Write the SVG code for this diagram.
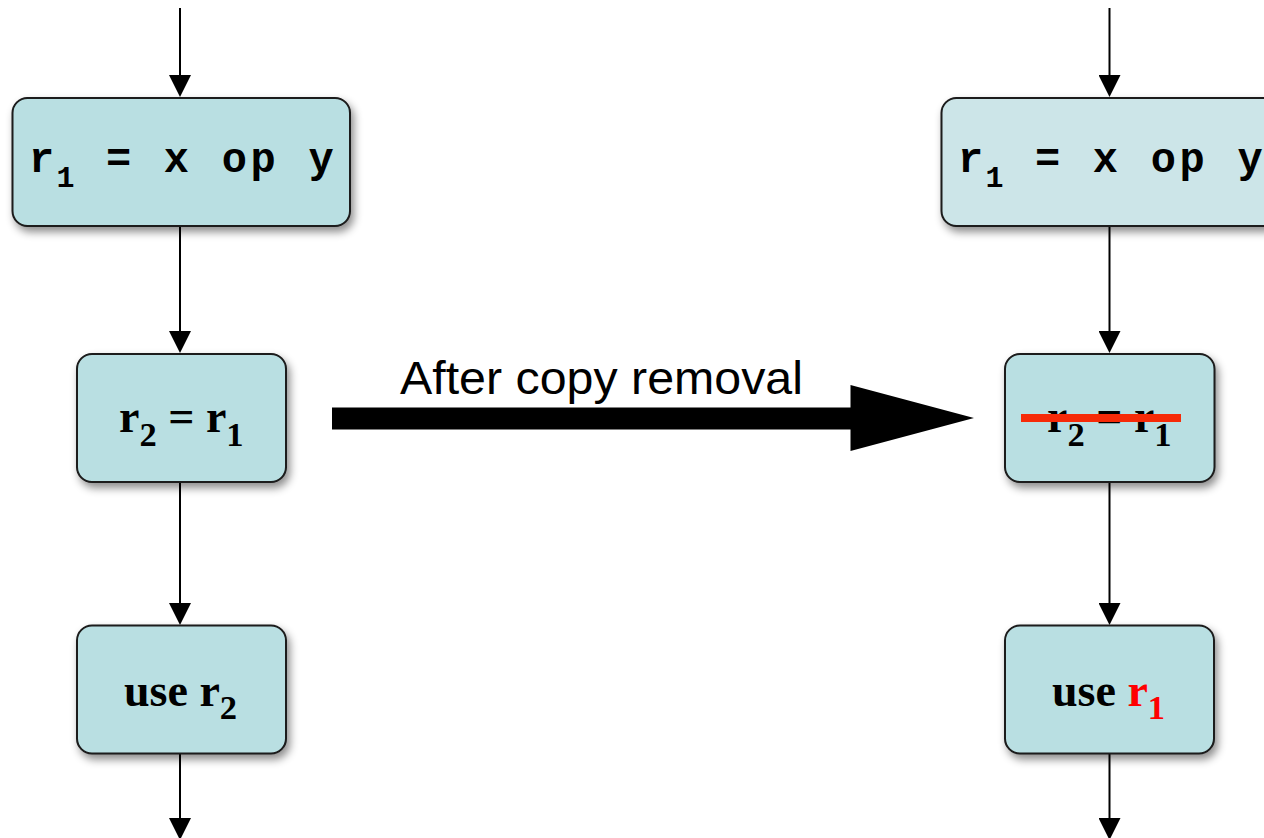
<svg xmlns="http://www.w3.org/2000/svg" width="1264" height="838" viewBox="0 0 1264 838">
  <style>
    .box { fill: #b9dfe2; stroke: #1a1a1a; stroke-width: 2; filter: url(#shadow); }
    .box.light { fill: #cce5e8; }
    .conn { stroke: #000; stroke-width: 2; fill: none; marker-end: url(#arr); }
    .mono { font-family: 'Courier New', 'Liberation Mono', monospace; font-weight: bold; font-size: 42px; fill: #000; }
    .mono .sub { font-size: 30px; }
    .serif { font-family: 'Liberation Serif', 'Times New Roman', serif; font-weight: bold; font-size: 46px; fill: #000; }
    .serif .sub { font-size: 34.5px; }
    .label { font-family: 'Liberation Sans', Arial, Helvetica, sans-serif; font-size: 46px; fill: #000; }
    .red { fill: #ff0000; }
  </style>
  <defs>
    <filter id="shadow" x="-20%" y="-20%" width="140%" height="150%">
      <feDropShadow dx="3" dy="5" stdDeviation="4" flood-color="#000" flood-opacity="0.45"/>
    </filter>
    <marker id="arr" markerUnits="userSpaceOnUse" markerWidth="22" markerHeight="22" refX="12" refY="11" orient="auto">
      <path d="M0,0 L22,11 L0,22 z" fill="#000"/>
    </marker>
  </defs>

  <g id="connectors">
    <line class="conn" x1="180" y1="8" x2="180" y2="87"/>
    <line class="conn" x1="180" y1="226" x2="180" y2="343"/>
    <line class="conn" x1="180" y1="482" x2="180" y2="615"/>
    <line class="conn" x1="180" y1="754" x2="180" y2="830"/>
    <line class="conn" x1="1109.5" y1="8" x2="1109.5" y2="87"/>
    <line class="conn" x1="1109.5" y1="226" x2="1109.5" y2="343"/>
    <line class="conn" x1="1109.5" y1="482" x2="1109.5" y2="615"/>
    <line class="conn" x1="1109.5" y1="754" x2="1109.5" y2="830"/>
    <polygon id="big-arrow" points="332,407.5 850.5,407.5 850.5,385 974,418 850.5,451 850.5,429.5 332,429.5" fill="#000"/>
    <text class="label" x="400" y="394" textLength="403" lengthAdjust="spacingAndGlyphs">After copy removal</text>
  </g>

  <g id="node-l1">
    <rect class="box" x="12.5" y="98" width="337.5" height="128" rx="15"/>
    <text class="mono" y="172"><tspan x="28.9">r</tspan><tspan class="sub" x="56.5" dy="15">1</tspan><tspan x="105.9" dy="-15" letter-spacing="3.73">= x op y</tspan></text>
  </g>
  <g id="node-l2">
    <rect class="box" x="77" y="354" width="209" height="128" rx="15"/>
    <text class="serif" x="119" y="432">r<tspan class="sub" dy="14">2</tspan><tspan dy="-14"> = r</tspan><tspan class="sub" dy="14">1</tspan></text>
  </g>
  <g id="node-l3">
    <rect class="box" x="77" y="625.5" width="209" height="128" rx="15"/>
    <text class="serif" x="124" y="706">use r<tspan class="sub" dy="13">2</tspan></text>
  </g>

  <g id="node-r1">
    <rect class="box light" x="941.5" y="98" width="337.5" height="128" rx="15"/>
    <text class="mono" y="172"><tspan x="957.9">r</tspan><tspan class="sub" x="985.5" dy="15">1</tspan><tspan x="1034.9" dy="-15" letter-spacing="3.73">= x op y</tspan></text>
  </g>
  <g id="node-r2">
    <rect class="box" x="1005" y="354" width="209.5" height="128" rx="15"/>
    <text class="serif" x="1047" y="432">r<tspan class="sub" dy="14">2</tspan><tspan dy="-14"> = r</tspan><tspan class="sub" dy="14">1</tspan></text>
    <rect x="1021" y="414" width="160" height="8" fill="#f62a08"/>
  </g>
  <g id="node-r3">
    <rect class="box" x="1005" y="625.5" width="209" height="128" rx="15"/>
    <text class="serif" x="1052" y="706">use <tspan class="red">r</tspan><tspan class="sub red" dy="13">1</tspan></text>
  </g>
</svg>
